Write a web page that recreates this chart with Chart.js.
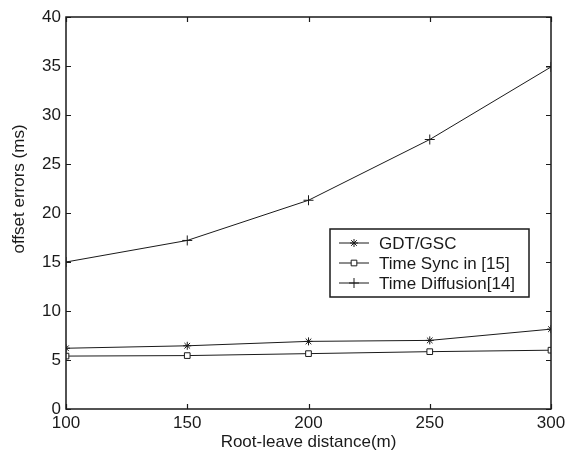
<!DOCTYPE html>
<html>
<head>
<meta charset="utf-8">
<script src="https://cdn.jsdelivr.net/npm/chart.js@4.4.0/dist/chart.umd.min.js"></script>
<style>
html,body{margin:0;padding:0;background:#fff;}
#wrap{width:566px;height:450px;position:relative;}
</style>
</head>
<body>
<div id="wrap"><canvas id="c" width="566" height="450"></canvas></div>
<script>
const distances = [100, 150, 200, 250, 300];
const gdtGsc = [6.2, 6.45, 6.9, 7.0, 8.15];
const timeSync = [5.4, 5.45, 5.65, 5.85, 6.0];
const timeDiffusion = [15.0, 17.2, 21.3, 27.5, 34.9];
const seriesLabels = ['GDT/GSC', 'Time Sync in [15]', 'Time Diffusion[14]'];
const xTicks = [100, 150, 200, 250, 300];
const yTicks = [0, 5, 10, 15, 20, 25, 30, 35, 40];
const xTitle = 'Root-leave distance(m)';
const yTitle = 'offset errors (ms)';

const FONT = "'Liberation Sans', Arial, Helvetica, sans-serif";
const ink = '#1a1a1a';

function pts(vals){ return distances.map((d,i)=>({x:d,y:vals[i]})); }

const styles = [
  {pointStyle:'star', radius:4, bg:ink},
  {pointStyle:'rect', radius:4, bg:'#ffffff'},
  {pointStyle:'cross', radius:5, bg:ink}
];

const framePlugin = {
  id:'frame',
  afterDatasetsDraw(chart){
    const {ctx, chartArea:a, scales} = chart;
    ctx.save();
    ctx.strokeStyle = ink;
    ctx.lineWidth = 1.5;
    ctx.strokeRect(a.left, a.top, a.right-a.left, a.bottom-a.top);
    ctx.lineWidth = 1.2;
    const L = 5;
    ctx.beginPath();
    xTicks.forEach(v=>{
      const x = Math.round(scales.x.getPixelForValue(v))+0.5;
      ctx.moveTo(x, a.bottom); ctx.lineTo(x, a.bottom-L);
      ctx.moveTo(x, a.top); ctx.lineTo(x, a.top+L);
    });
    yTicks.forEach(v=>{
      const y = Math.round(scales.y.getPixelForValue(v))+0.5;
      ctx.moveTo(a.left, y); ctx.lineTo(a.left+L, y);
      ctx.moveTo(a.right, y); ctx.lineTo(a.right-L, y);
    });
    ctx.stroke();

    // y-axis title
    ctx.save();
    ctx.translate(19, 189);
    ctx.rotate(-Math.PI/2);
    ctx.font = '17px ' + FONT;
    ctx.fillStyle = ink;
    ctx.textAlign = 'center';
    ctx.textBaseline = 'middle';
    ctx.fillText(yTitle, 0, 0);
    ctx.restore();

    // legend box
    const bx = a.right - 221, by = 229, bw = 199, bh = 68;
    ctx.fillStyle = '#fff';
    ctx.fillRect(bx, by, bw, bh);
    ctx.lineWidth = 1.5;
    ctx.strokeStyle = ink;
    ctx.strokeRect(bx, by, bw, bh);
    ctx.font = '17px ' + FONT;
    ctx.textBaseline = 'middle';
    ctx.textAlign = 'left';
    chart.data.datasets.forEach((ds, i)=>{
      const cy = by + 14 + i*20;
      ctx.strokeStyle = ink;
      ctx.lineWidth = 1;
      ctx.beginPath();
      ctx.moveTo(bx+9, cy); ctx.lineTo(bx+39, cy);
      ctx.stroke();
      ctx.fillStyle = ds.pointBackgroundColor;
      ctx.strokeStyle = ink;
      Chart.helpers.drawPoint(ctx, {pointStyle: ds.pointStyle, radius: ds.pointRadius, borderWidth:1}, bx+24, cy);
      ctx.fillStyle = ink;
      ctx.fillText(ds.label, bx+49, cy+1);
    });
    ctx.restore();
  }
};

const seriesValues = [gdtGsc, timeSync, timeDiffusion];

new Chart(document.getElementById('c'), {
  type:'line',
  data:{
    datasets: seriesValues.map((vals,i)=>({
      label:seriesLabels[i], data:pts(vals),
      borderColor:ink, borderWidth:1, backgroundColor:styles[i].bg,
      pointStyle:styles[i].pointStyle, pointRadius:styles[i].radius,
      pointBorderColor:ink, pointBackgroundColor:styles[i].bg, pointBorderWidth:1,
      tension:0, fill:false
    }))
  },
  options:{
    responsive:false, animation:false,
    layout:{padding:{top:17, right:15, left:0, bottom:0}},
    plugins:{legend:{display:false}, tooltip:{enabled:false}},
    scales:{
      x:{type:'linear', min:100, max:300,
        afterBuildTicks(s){ s.ticks = xTicks.map(v=>({value:v})); },
        afterFit(s){ s.height = 41; s.paddingLeft = 0; s.paddingRight = 0; },
        grid:{display:false, drawTicks:false},
        border:{display:false},
        ticks:{color:ink, font:{family:FONT, size:17}, padding:4, maxRotation:0},
        title:{display:true, text:xTitle, color:ink, font:{family:FONT, size:17}, padding:{top:0,bottom:-3}}
      },
      y:{type:'linear', min:0, max:40,
        afterBuildTicks(s){ s.ticks = yTicks.map(v=>({value:v})); },
        afterFit(s){ s.width = 66; s.paddingTop = 0; s.paddingBottom = 0; },
        grid:{display:false, drawTicks:false},
        border:{display:false},
        ticks:{color:ink, font:{family:FONT, size:17}, padding:5},
        title:{display:false}
      }
    }
  },
  plugins:[framePlugin]
});
</script>
</body>
</html>
